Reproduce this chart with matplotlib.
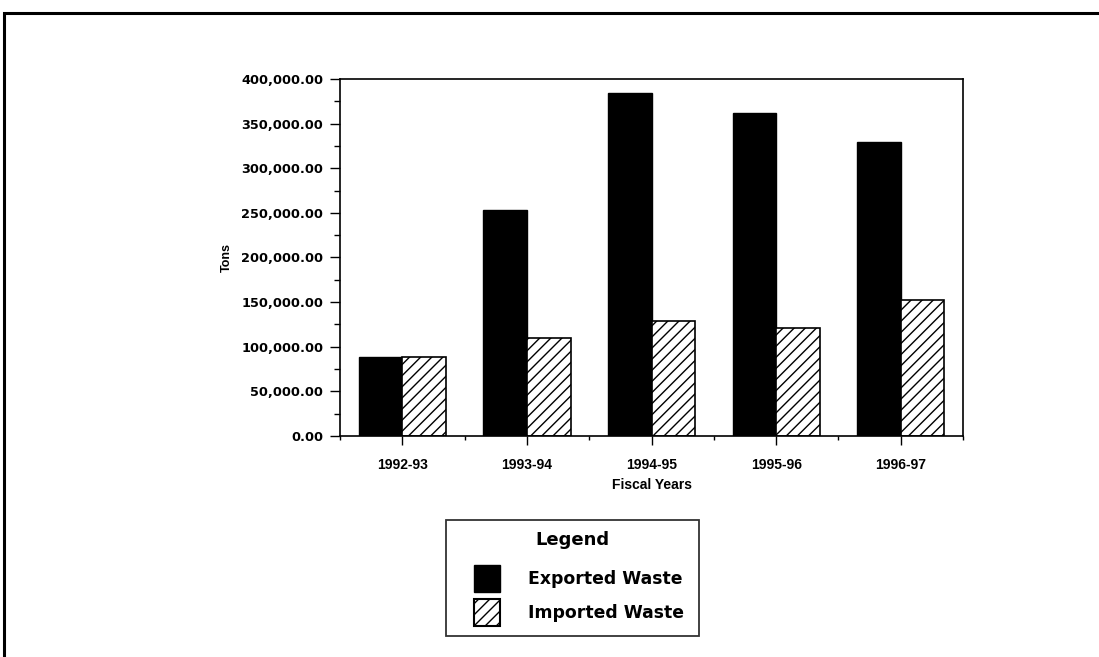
import numpy as np
import matplotlib as mpl
mpl.use('Agg')
import matplotlib.pyplot as plt
from matplotlib.patches import Patch, Rectangle
from matplotlib.legend_handler import HandlerPatch
from matplotlib.ticker import FuncFormatter, MultipleLocator, FixedLocator

# data (tons)
years = ['1992-93', '1993-94', '1994-95', '1995-96', '1996-97']
exported = [89000, 253000, 384000, 362000, 329000]
imported = [89000, 110000, 129000, 121000, 152000]

plt.rcParams['hatch.linewidth'] = 1.0

fig = plt.figure(figsize=(10.99, 6.57), dpi=100)
ax = fig.add_axes([0.3094, 0.3364, 0.5669, 0.5434])

x = np.arange(len(years))
barWidth = 0.35

ax.bar(x - barWidth / 2, exported, width=barWidth, color='black', edgecolor='black', linewidth=1.0)
ax.bar(x + barWidth / 2, imported, width=barWidth, color='white', edgecolor='black',
       hatch='///', linewidth=1.2)

ax.set_xlim(-0.5, 4.5)
ax.set_ylim(0, 400000)

# y axis
ax.yaxis.set_major_locator(MultipleLocator(50000))
ax.yaxis.set_minor_locator(MultipleLocator(25000))
ax.yaxis.set_major_formatter(FuncFormatter(lambda v, p: '{:,.2f}'.format(v)))
ax.tick_params(axis='y', which='major', length=7, width=1.0, pad=5)
ax.tick_params(axis='y', which='minor', length=4, width=1.0)
for t in ax.get_yticklabels():
    t.set_fontfamily('DejaVu Sans')
    t.set_fontweight('bold')
    t.set_fontsize(9.3)

# x axis
ax.set_xticks(x)
ax.set_xticklabels(years, fontfamily='Liberation Sans', fontweight='bold', fontsize=10)
ax.xaxis.set_minor_locator(FixedLocator([-0.5, 0.5, 1.5, 2.5, 3.5, 4.5]))
ax.tick_params(axis='x', which='major', length=6.5, width=1.0, pad=9)
ax.tick_params(axis='x', which='minor', length=3, width=1.0)

ax.set_xlabel('Fiscal Years', fontfamily='Liberation Sans', fontweight='bold', fontsize=10, labelpad=5)
ax.set_ylabel('Tons', fontfamily='Liberation Sans', fontweight='bold', fontsize=9, labelpad=6)

for s in ax.spines.values():
    s.set_linewidth(1.2)


# square legend swatch pushed to the right of the handle area
def right_square(legend, orig_handle, xdescent, ydescent, width, height, fontsize):
    return Rectangle((-xdescent + width - height, -ydescent), height, height)


# legend box below the chart
handles = [Patch(facecolor='black', edgecolor='black', label='Exported Waste'),
           Patch(facecolor='white', edgecolor='black', hatch='///', linewidth=1.5, label='Imported Waste')]
leg = fig.legend(handles=handles, loc='center', bbox_to_anchor=(0.521, 0.12),
                 title='Legend', frameon=True, fancybox=False, edgecolor='black',
                 prop={'family': 'DejaVu Sans', 'weight': 'bold', 'size': 12.4},
                 handlelength=2.27, handleheight=2.0, handletextpad=1.6,
                 labelspacing=0.4, borderpad=0.6, borderaxespad=0,
                 handler_map={Patch: HandlerPatch(patch_func=right_square)})
leg.get_title().set_fontfamily('DejaVu Sans')
leg.get_title().set_fontweight('bold')
leg.get_title().set_fontsize(13)
leg._legend_box.sep = 12
frame = leg.get_frame()
frame.set_linewidth(1.3)
# widen the frame sideways only
frame.set_boxstyle('square', pad=0.3)
frame.set_mutation_aspect(0.01)

# page frame (top and left edges of the scanned box)
fig.patches.append(Rectangle((0.004, -0.1), 1.1, 1.08, transform=fig.transFigure,
                             fill=False, edgecolor='black', linewidth=2.2, figure=fig))

plt.savefig('out.png', dpi=100)
